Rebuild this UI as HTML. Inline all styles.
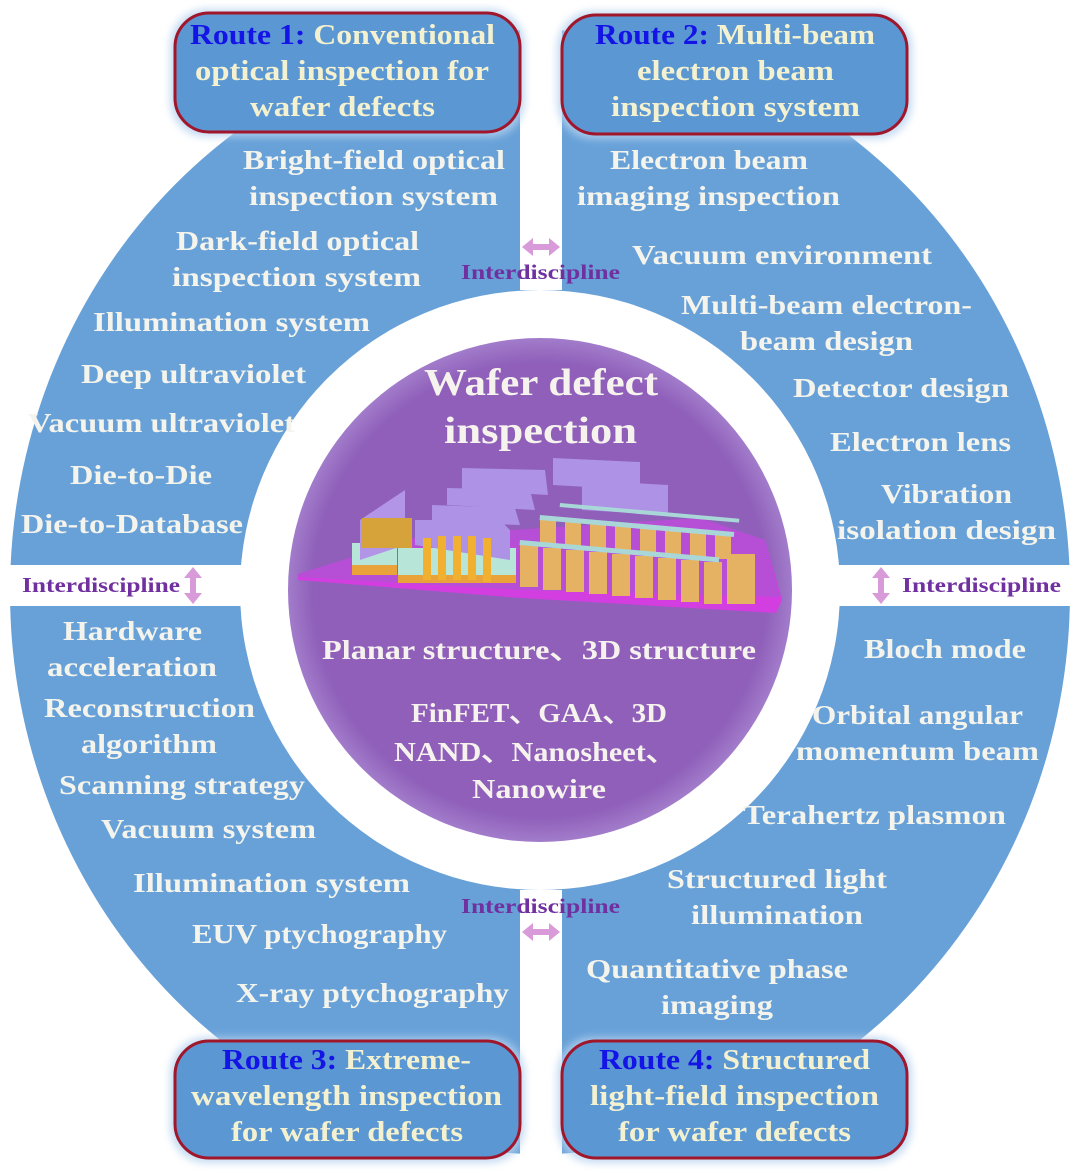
<!DOCTYPE html>
<html><head><meta charset="utf-8"><style>
html,body{margin:0;padding:0;background:#fff;}
svg{display:block;}
text{font-family:"Liberation Serif",serif;font-weight:bold;}
</style></head><body>
<svg width="1080" height="1173" viewBox="0 0 1080 1173" xmlns="http://www.w3.org/2000/svg">
<defs>
<radialGradient id="pg" cx="50%" cy="50%" r="50%">
<stop offset="0.9" stop-color="#8f5fb9"/><stop offset="1" stop-color="#a27ccb"/>
</radialGradient>
<filter id="sh" x="-20%" y="-20%" width="140%" height="140%"><feGaussianBlur stdDeviation="4"/></filter>
</defs>
<ellipse cx="540" cy="592" rx="530" ry="562" fill="#68a1d8"/>
<rect x="520" y="0" width="42" height="290" fill="#fff"/>
<rect x="520" y="890" width="42" height="290" fill="#fff"/>
<rect x="0" y="565" width="1080" height="41" fill="#fff"/>
<circle cx="540" cy="590" r="300" fill="#fff"/>
<circle cx="540" cy="590" r="252" fill="url(#pg)"/>

<!-- wafer model -->
<polygon points="298,574 420,536 700,518 765,540 782,600 776,613 520,598 298,580" fill="#d33ee0"/>
<polygon points="298,574 420,536 700,518 765,540 780,597 520,590 298,577" fill="#b64fd6"/>
<rect x="352" y="543" width="45" height="30" fill="#b7e6d9"/>
<rect x="352" y="565" width="45" height="10" fill="#e9a33a"/>
<rect x="398" y="548" width="118" height="32" fill="#b7e6d9"/>
<rect x="398" y="575" width="118" height="8" fill="#e9a33a"/>
<polygon points="360,520 405,490 405,545 360,560" fill="#b395e8"/>
<rect x="362" y="518" width="50" height="30" fill="#d6a33a"/>
<polygon points="415,520 500,520 510,530 510,560 415,545" fill="#ad92e6"/>
<g fill="#f1b030"><rect x="423" y="538" width="8" height="42"/><rect x="438" y="536" width="8" height="44"/><rect x="453" y="536" width="8" height="44"/><rect x="468" y="536" width="8" height="44"/><rect x="483" y="538" width="8" height="44"/></g>
<polygon points="432,505 515,508 520,525 432,522" fill="#ad92e6"/>
<polygon points="447,488 530,490 535,510 447,505" fill="#ad92e6"/>
<polygon points="462,468 545,470 548,495 462,490" fill="#ad92e6"/>
<polygon points="553,458 640,462 640,490 553,485" fill="#ad92e6"/>
<polygon points="582,480 668,485 668,515 582,510" fill="#ad92e6"/>
<g fill="#e5b264">
<rect x="520" y="545" width="18" height="42"/><rect x="543" y="548" width="18" height="42"/><rect x="566" y="550" width="18" height="42"/><rect x="589" y="552" width="18" height="42"/><rect x="612" y="554" width="18" height="42"/><rect x="635" y="556" width="18" height="42"/><rect x="658" y="558" width="18" height="42"/><rect x="681" y="560" width="18" height="42"/><rect x="704" y="562" width="18" height="42"/><rect x="727" y="554" width="28" height="50"/>
<rect x="540" y="520" width="16" height="25"/><rect x="565" y="522" width="16" height="25"/><rect x="590" y="524" width="16" height="25"/><rect x="615" y="526" width="16" height="25"/><rect x="640" y="528" width="16" height="25"/><rect x="665" y="530" width="16" height="25"/><rect x="690" y="532" width="16" height="25"/><rect x="715" y="534" width="16" height="25"/>
</g>
<g fill="#a9d7d8">
<rect x="520" y="540" width="200" height="5" transform="rotate(5 520 540)"/>
<rect x="540" y="515" width="195" height="5" transform="rotate(5 540 515)"/>
<rect x="560" y="503" width="180" height="4" transform="rotate(5 560 503)"/>
</g>

<!-- route boxes -->
<g filter="url(#sh)" fill="#b8d3ef" opacity="0.8">
<rect x="170" y="9" width="355" height="128" rx="36"/><rect x="557" y="11" width="355" height="128" rx="36"/>
<rect x="170" y="1037" width="355" height="126" rx="36"/><rect x="557" y="1037" width="355" height="126" rx="36"/>
</g>
<g fill="#5b97d3" stroke="#a0162a" stroke-width="3">
<rect x="175" y="13" width="345" height="119" rx="34"/><rect x="562" y="15" width="345" height="119" rx="34"/>
<rect x="175" y="1041" width="345" height="117" rx="34"/><rect x="562" y="1041" width="345" height="117" rx="34"/>
</g>
<g font-size="28" fill="#f3f1cf" lengthAdjust="spacingAndGlyphs">
<text x="190" y="44" textLength="305" lengthAdjust="spacingAndGlyphs"><tspan fill="#1414e6">Route 1:</tspan> Conventional</text>
<text x="195" y="80" textLength="294" lengthAdjust="spacingAndGlyphs">optical inspection for</text>
<text x="250" y="116" textLength="185" lengthAdjust="spacingAndGlyphs">wafer defects</text>
<text x="595" y="44" textLength="280" lengthAdjust="spacingAndGlyphs"><tspan fill="#1414e6">Route 2:</tspan> Multi-beam</text>
<text x="637" y="80" textLength="197" lengthAdjust="spacingAndGlyphs">electron beam</text>
<text x="611" y="116" textLength="249" lengthAdjust="spacingAndGlyphs">inspection system</text>
<text x="222" y="1069" textLength="249" lengthAdjust="spacingAndGlyphs"><tspan fill="#1414e6">Route 3:</tspan> Extreme-</text>
<text x="191" y="1105" textLength="311" lengthAdjust="spacingAndGlyphs">wavelength inspection</text>
<text x="231" y="1141" textLength="232" lengthAdjust="spacingAndGlyphs">for wafer defects</text>
<text x="599" y="1069" textLength="271" lengthAdjust="spacingAndGlyphs"><tspan fill="#1414e6">Route 4:</tspan> Structured</text>
<text x="590" y="1105" textLength="289" lengthAdjust="spacingAndGlyphs">light-field inspection</text>
<text x="618" y="1141" textLength="233" lengthAdjust="spacingAndGlyphs">for wafer defects</text>
</g>

<!-- item texts -->
<g font-size="27" fill="#f4f4ec">
<text x="243" y="169" textLength="262" lengthAdjust="spacingAndGlyphs">Bright-field optical</text>
<text x="249" y="205" textLength="249" lengthAdjust="spacingAndGlyphs">inspection system</text>
<text x="176" y="250" textLength="243" lengthAdjust="spacingAndGlyphs">Dark-field optical</text>
<text x="172" y="286" textLength="249" lengthAdjust="spacingAndGlyphs">inspection system</text>
<text x="93" y="331" textLength="277" lengthAdjust="spacingAndGlyphs">Illumination system</text>
<text x="81" y="383" textLength="225" lengthAdjust="spacingAndGlyphs">Deep ultraviolet</text>
<text x="28" y="432" textLength="267" lengthAdjust="spacingAndGlyphs">Vacuum ultraviolet</text>
<text x="70" y="484" textLength="142" lengthAdjust="spacingAndGlyphs">Die-to-Die</text>
<text x="21" y="533" textLength="222" lengthAdjust="spacingAndGlyphs">Die-to-Database</text>
<text x="63" y="640" textLength="139" lengthAdjust="spacingAndGlyphs">Hardware</text>
<text x="47" y="676" textLength="170" lengthAdjust="spacingAndGlyphs">acceleration</text>
<text x="44" y="717" textLength="211" lengthAdjust="spacingAndGlyphs">Reconstruction</text>
<text x="81" y="753" textLength="136" lengthAdjust="spacingAndGlyphs">algorithm</text>
<text x="59" y="794" textLength="246" lengthAdjust="spacingAndGlyphs">Scanning strategy</text>
<text x="101" y="838" textLength="215" lengthAdjust="spacingAndGlyphs">Vacuum system</text>
<text x="133" y="892" textLength="277" lengthAdjust="spacingAndGlyphs">Illumination system</text>
<text x="192" y="943" textLength="255" lengthAdjust="spacingAndGlyphs">EUV ptychography</text>
<text x="236" y="1002" textLength="273" lengthAdjust="spacingAndGlyphs">X-ray ptychography</text>
<text x="610" y="169" textLength="198" lengthAdjust="spacingAndGlyphs">Electron beam</text>
<text x="577" y="205" textLength="263" lengthAdjust="spacingAndGlyphs">imaging inspection</text>
<text x="632" y="264" textLength="300" lengthAdjust="spacingAndGlyphs">Vacuum environment</text>
<text x="681" y="314" textLength="291" lengthAdjust="spacingAndGlyphs">Multi-beam electron-</text>
<text x="740" y="350" textLength="173" lengthAdjust="spacingAndGlyphs">beam design</text>
<text x="793" y="397" textLength="216" lengthAdjust="spacingAndGlyphs">Detector design</text>
<text x="830" y="451" textLength="181" lengthAdjust="spacingAndGlyphs">Electron lens</text>
<text x="881" y="503" textLength="131" lengthAdjust="spacingAndGlyphs">Vibration</text>
<text x="837" y="539" textLength="219" lengthAdjust="spacingAndGlyphs">isolation design</text>
<text x="864" y="658" textLength="162" lengthAdjust="spacingAndGlyphs">Bloch mode</text>
<text x="812" y="724" textLength="211" lengthAdjust="spacingAndGlyphs">Orbital angular</text>
<text x="796" y="760" textLength="243" lengthAdjust="spacingAndGlyphs">momentum beam</text>
<text x="743" y="824" textLength="263" lengthAdjust="spacingAndGlyphs">Terahertz plasmon</text>
<text x="667" y="888" textLength="220" lengthAdjust="spacingAndGlyphs">Structured light</text>
<text x="691" y="924" textLength="172" lengthAdjust="spacingAndGlyphs">illumination</text>
<text x="586" y="978" textLength="262" lengthAdjust="spacingAndGlyphs">Quantitative phase</text>
<text x="661" y="1014" textLength="112" lengthAdjust="spacingAndGlyphs">imaging</text>
</g>

<!-- center texts -->
<g fill="#f6f3ee">
<text x="424" y="395" font-size="38" textLength="234" lengthAdjust="spacingAndGlyphs">Wafer defect</text>
<text x="444" y="443" font-size="38" textLength="193" lengthAdjust="spacingAndGlyphs">inspection</text>
<text font-family="Liberation Serif, Noto Serif CJK SC, serif" x="322" y="659" font-size="27" textLength="434" lengthAdjust="spacingAndGlyphs">Planar structure、3D structure</text>
<text x="411" y="722" font-size="27" textLength="256" lengthAdjust="spacingAndGlyphs">FinFET、GAA、3D</text>
<text x="394" y="761" font-size="27" textLength="282" lengthAdjust="spacingAndGlyphs">NAND、Nanosheet、</text>
<text x="472" y="798" font-size="27" textLength="134" lengthAdjust="spacingAndGlyphs">Nanowire</text>
</g>

<!-- interdiscipline -->
<g font-size="21" fill="#7030a0">
<text x="461" y="279" textLength="159" lengthAdjust="spacingAndGlyphs">Interdiscipline</text>
<text x="22" y="592" textLength="158" lengthAdjust="spacingAndGlyphs">Interdiscipline</text>
<text x="902" y="592" textLength="159" lengthAdjust="spacingAndGlyphs">Interdiscipline</text>
<text x="461" y="913" textLength="159" lengthAdjust="spacingAndGlyphs">Interdiscipline</text>
</g>
<g fill="#d89ad8">
<polygon points="522,247 533,238 533,244 549,244 549,238 560,247 549,256 549,250 533,250 533,256"/>
<polygon points="522,932 533,923 533,929 549,929 549,923 560,932 549,941 549,935 533,935 533,941"/>
<polygon points="193,567 202,578 196,578 196,593 202,593 193,604 184,593 190,593 190,578 184,578"/>
<polygon points="881,567 890,578 884,578 884,593 890,593 881,604 872,593 878,593 878,578 872,578"/>
</g>
</svg>
</body></html>
